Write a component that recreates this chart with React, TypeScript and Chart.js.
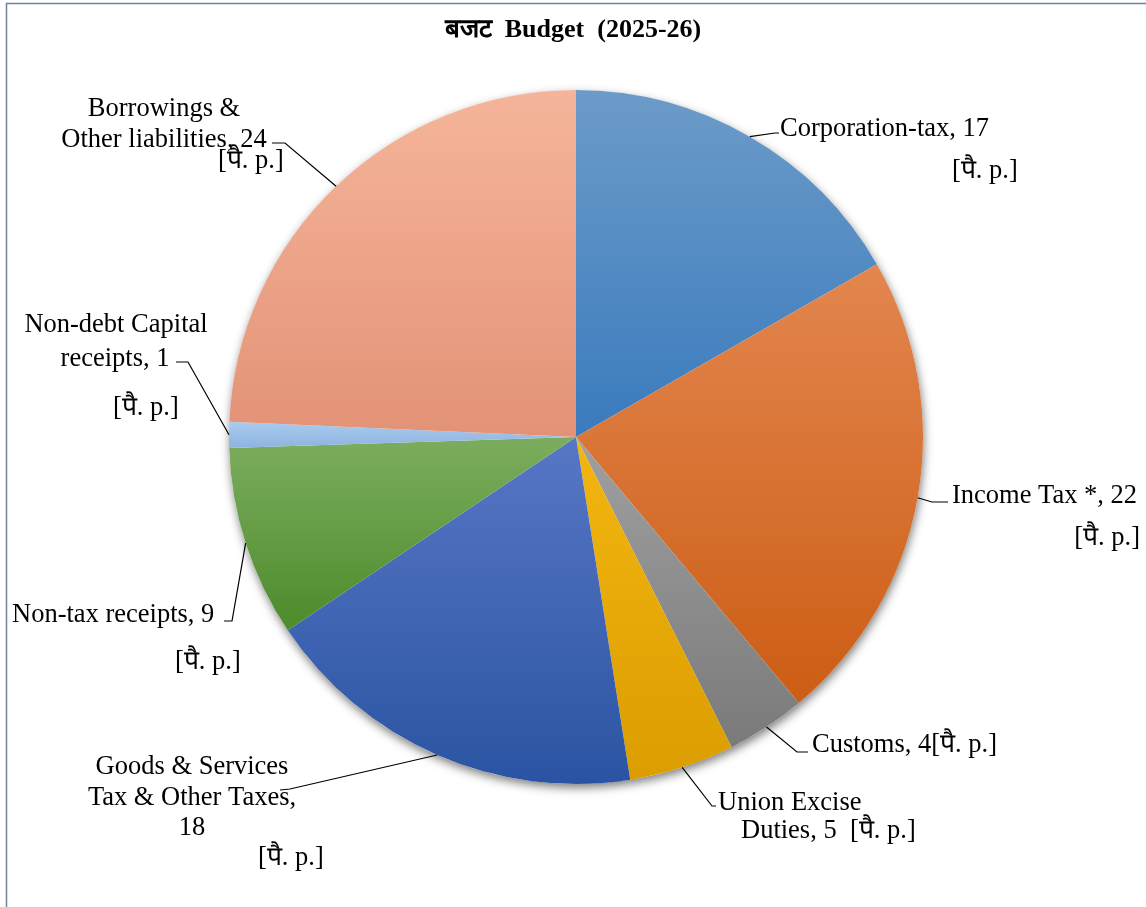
import React, { useEffect, useRef } from "react";
import { Chart, registerables } from "chart.js";

Chart.register(...registerables);

const TITLE = "बजट  Budget  (2025-26)";
const CATEGORIES = [
  "Corporation-tax",
  "Income Tax *",
  "Customs",
  "Union Excise Duties",
  "Goods & Services Tax & Other Taxes",
  "Non-tax receipts",
  "Non-debt Capital receipts",
  "Borrowings & Other liabilities",
];
// slice sizes (labels show them rounded)
const VALUES = [16.7, 22.2, 3.7, 4.9, 18.1, 8.9, 1.2, 24.3];
const UNIT = "[पै. p.]";

// gradient colours (light at top of slice, dark at bottom)
const COLORS_LIGHT = ["#6c9bc9", "#e3864f", "#a0a0a0", "#f3b610", "#5777c5", "#7cad5e", "#aacbee", "#f5b59a"];
const COLORS_DARK = ["#3a7bbd", "#cc5d14", "#7a7a7a", "#db9d00", "#2a54a3", "#4d8b2b", "#8db3e0", "#e39276"];

// label layout (positions only)
type LinePos = { x: number; y: number; a: CanvasTextAlign };
type LabelLayout = { breaks: number[]; inlineUnit: string | null; lines: LinePos[]; leader: number[][] };
const LABEL_LAYOUT: LabelLayout[] = [
  { breaks: [], inlineUnit: null, lines: [{ x: 780, y: 136, a: "left" }, { x: 952, y: 178, a: "left" }], leader: [[775, 133], [779, 133]] },
  { breaks: [], inlineUnit: null, lines: [{ x: 952, y: 503, a: "left" }, { x: 1140, y: 545, a: "right" }], leader: [[932, 502], [948, 502]] },
  { breaks: [], inlineUnit: "", lines: [{ x: 812, y: 752, a: "left" }], leader: [[797, 752], [808, 752]] },
  { breaks: [2], inlineUnit: "  ", lines: [{ x: 718, y: 810, a: "left" }, { x: 741, y: 838, a: "left" }], leader: [[712, 806], [716, 806]] },
  { breaks: [3, 7], inlineUnit: null, lines: [{ x: 192, y: 774, a: "center" }, { x: 192, y: 805, a: "center" }, { x: 192, y: 835, a: "center" }, { x: 258, y: 865, a: "left" }], leader: [[290, 789], [280, 790]] },
  { breaks: [], inlineUnit: null, lines: [{ x: 12, y: 622, a: "left" }, { x: 175, y: 669, a: "left" }], leader: [[232, 621], [224, 621]] },
  { breaks: [2], inlineUnit: null, lines: [{ x: 116, y: 332, a: "center" }, { x: 115, y: 366, a: "center" }, { x: 113, y: 415, a: "left" }], leader: [[188, 362], [176, 362]] },
  { breaks: [2], inlineUnit: null, lines: [{ x: 164, y: 116, a: "center" }, { x: 164, y: 147, a: "center" }, { x: 218, y: 168, a: "left" }], leader: [[285, 143], [272, 143]] },
];

const FONT = '26.5px "Liberation Serif", "Times New Roman", "DejaVu Serif", serif';
const TITLE_FONT = 'bold 26px "Liberation Serif", "Times New Roman", "DejaVu Serif", serif';

function buildLines(i: number): string[] {
  const layout = LABEL_LAYOUT[i];
  const words = `${CATEGORIES[i]}, ${Math.round(VALUES[i])}`.split(" ");
  const lines: string[] = [];
  let cur: string[] = [];
  words.forEach((w, k) => {
    cur.push(w);
    if (layout.breaks.includes(k + 1)) {
      lines.push(cur.join(" "));
      cur = [];
    }
  });
  if (cur.length) lines.push(cur.join(" "));
  if (layout.inlineUnit !== null) lines[lines.length - 1] += layout.inlineUnit + UNIT;
  else lines.push(UNIT);
  return lines;
}

function sliceGradient(context: any) {
  const i = context.dataIndex;
  const chart = context.chart;
  const area = chart.chartArea;
  if (!area) return COLORS_LIGHT[i];
  const cx = (area.left + area.right) / 2;
  const cy = (area.top + area.bottom) / 2;
  const r = Math.min(area.right - area.left, area.bottom - area.top) / 2;
  const total = VALUES.reduce((s, v) => s + v, 0);
  let cum = 0;
  for (let k = 0; k < i; k++) cum += VALUES[k];
  const a0 = -Math.PI / 2 + (2 * Math.PI * cum) / total;
  const a1 = a0 + (2 * Math.PI * VALUES[i]) / total;
  let minY = Math.min(cy, cy + r * Math.sin(a0), cy + r * Math.sin(a1));
  let maxY = Math.max(cy, cy + r * Math.sin(a0), cy + r * Math.sin(a1));
  for (let k = -2; k <= 4; k++) {
    const a = Math.PI / 2 + k * Math.PI;
    if (a > a0 && a < a1) {
      const y = cy + r * Math.sin(a);
      minY = Math.min(minY, y);
      maxY = Math.max(maxY, y);
    }
  }
  const g = chart.ctx.createLinearGradient(0, minY, 0, maxY);
  g.addColorStop(0, COLORS_LIGHT[i]);
  g.addColorStop(1, COLORS_DARK[i]);
  return g;
}

const decorPlugin = {
  id: "decor",
  beforeDatasetsDraw(chart: any) {
    const meta = chart.getDatasetMeta(0);
    const arc = meta.data[0];
    if (!arc) return;
    const ctx = chart.ctx;
    ctx.save();
    ctx.shadowColor = "rgba(0,0,0,0.5)";
    ctx.shadowBlur = 10;
    ctx.shadowOffsetX = 1;
    ctx.shadowOffsetY = 4;
    ctx.fillStyle = "#ffffff";
    ctx.beginPath();
    ctx.arc(arc.x, arc.y, arc.outerRadius, 0, Math.PI * 2);
    ctx.fill();
    ctx.restore();
  },
  afterDraw(chart: any) {
    const ctx = chart.ctx;
    const W = chart.width;
    const H = chart.height;
    ctx.save();
    // frame
    ctx.strokeStyle = "#6b84a0";
    ctx.lineWidth = 1.5;
    ctx.beginPath();
    ctx.moveTo(W, 3.5);
    ctx.lineTo(6.5, 3.5);
    ctx.lineTo(6.5, H);
    ctx.stroke();
    // title
    ctx.fillStyle = "#000000";
    ctx.font = TITLE_FONT;
    ctx.textAlign = "center";
    ctx.textBaseline = "alphabetic";
    ctx.fillText(TITLE, W / 2, 37);
    // labels + leaders
    const meta = chart.getDatasetMeta(0);
    ctx.font = FONT;
    meta.data.forEach((el: any, i: number) => {
      const layout = LABEL_LAYOUT[i];
      const mid = (el.startAngle + el.endAngle) / 2;
      const ax = el.x + el.outerRadius * Math.cos(mid);
      const ay = el.y + el.outerRadius * Math.sin(mid);
      ctx.strokeStyle = "#000000";
      ctx.lineWidth = 1.2;
      ctx.beginPath();
      ctx.moveTo(ax, ay);
      layout.leader.forEach((p) => ctx.lineTo(p[0], p[1]));
      ctx.stroke();
      const lines = buildLines(i);
      lines.forEach((t, k) => {
        const pos = layout.lines[k];
        if (!pos) return;
        ctx.textAlign = pos.a;
        ctx.fillText(t, pos.x, pos.y);
      });
    });
    ctx.restore();
  },
};

export default function App() {
  const ref = useRef<HTMLCanvasElement | null>(null);
  useEffect(() => {
    document.body.style.margin = "0";
    const canvas = ref.current;
    if (!canvas) return;
    const chart = new Chart(canvas, {
      type: "pie",
      data: {
        labels: CATEGORIES,
        datasets: [
          {
            data: VALUES,
            backgroundColor: sliceGradient as any,
            borderWidth: 0,
          },
        ],
      },
      options: {
        responsive: false,
        animation: false,
        devicePixelRatio: 1,
        layout: { padding: { left: 229, right: 223, top: 90, bottom: 123 } },
        plugins: {
          legend: { display: false },
          tooltip: { enabled: false },
          title: { display: false },
        },
      },
      plugins: [decorPlugin],
    });
    return () => chart.destroy();
  }, []);
  return (
    <div style={{ width: 1146, height: 907, background: "#ffffff" }}>
      <canvas ref={ref} width={1146} height={907} style={{ display: "block" }} />
    </div>
  );
}
